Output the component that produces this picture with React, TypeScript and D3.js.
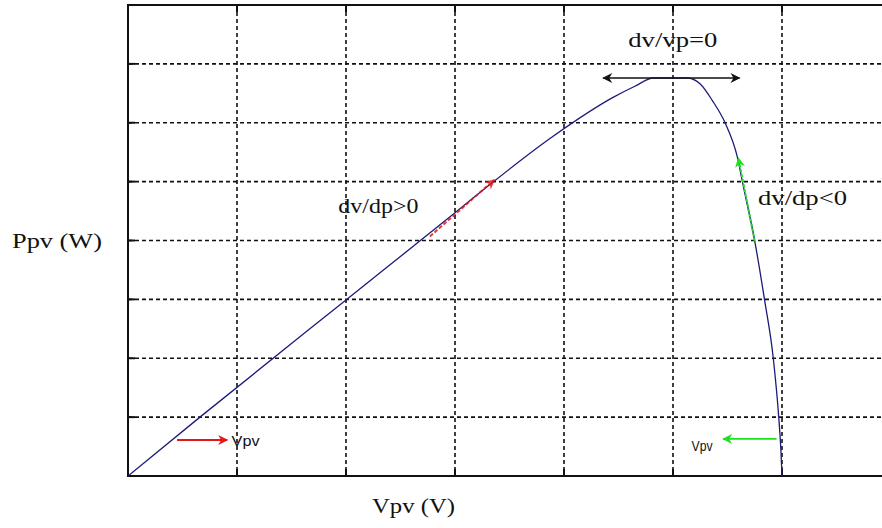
import React from "react";
import * as d3 from "d3";

// Grid ticks (no labels shown in the reference)
const xTicks = [0, 1, 2, 3, 4, 5, 6, 7];
const yTicks = [0, 1, 2, 3, 4, 5, 6, 7, 8];

// P-V curve (grid units)
const vpv = [0, 0.66, 2.0, 3.0, 3.32, 3.9, 4.45, 4.65, 4.82, 5.13, 5.25, 5.36, 5.48, 5.59, 5.64, 5.75, 5.84, 5.92, 5.97, 5.99, 6.0];
const ppv = [0, 1.0, 2.99, 4.47, 4.95, 5.77, 6.43, 6.62, 6.76, 6.76, 6.66, 6.38, 5.99, 5.42, 4.97, 3.99, 2.99, 2.0, 1.0, 0.44, 0];

// Annotation arrows [x1, y1, x2, y2] in grid units
const redSmall = [0.45, 0.61, 0.91, 0.61];
const greenSmall = [5.95, 0.63, 5.46, 0.63];
const peakArrow = [4.36, 6.76, 5.61, 6.76];
const redAlong = [2.77, 4.07, 3.36, 5.03];
const greenAlong = [5.75, 3.99, 5.6, 5.4];

// Annotation labels [text, x, y, width]
const labels: [string, number, number, number][] = [
  ["dv/dp>0", 1.93, 4.47, 80],
  ["dv/dp<0", 5.78, 4.6, 89],
  ["dv/vp=0", 4.59, 7.28, 89],
];
const smallLabels: [string, number, number, number][] = [
  ["Vpv", 0.95, 0.51, 28],
  ["Vpv", 5.17, 0.42, 21],
];

const W = 882;
const H = 528;
const L = 128, R = 891, T = 5, B = 476;

export default function App() {
  const x = d3.scaleLinear().domain([0, 7]).range([L, R]);
  const y = d3.scaleLinear().domain([0, 8]).range([B, T]);
  const pts: [number, number][] = vpv.map((v, i) => [v, ppv[i]]);
  const line = d3
    .line<[number, number]>()
    .x((d) => x(d[0]))
    .y((d) => y(d[1]))
    .curve(d3.curveMonotoneX);
  const serif = "'Liberation Serif', 'Times New Roman', serif";
  const sans = "'Liberation Sans', Arial, sans-serif";
  const seg = (a: number[], props: any, key: string) => (
    <line key={key} x1={x(a[0])} y1={y(a[1])} x2={x(a[2])} y2={y(a[3])} {...props} />
  );
  return (
    <svg width={W} height={H} style={{ position: "absolute", left: 0, top: 0, background: "#fff" }}>
      <defs>
        <marker id="redHead" viewBox="0 0 10 10" refX="9" refY="5" markerWidth="12" markerHeight="10" markerUnits="userSpaceOnUse" orient="auto">
          <path d="M0,0 L10,5 L0,10 L3,5 Z" fill="#e3161b" />
        </marker>
        <marker id="greenHead" viewBox="0 0 10 10" refX="9" refY="5" markerWidth="12" markerHeight="10" markerUnits="userSpaceOnUse" orient="auto">
          <path d="M0,0 L10,5 L0,10 L3,5 Z" fill="#1fe01f" />
        </marker>
        <marker id="blackHead" viewBox="0 0 10 10" refX="9" refY="5" markerWidth="11" markerHeight="10" markerUnits="userSpaceOnUse" orient="auto-start-reverse">
          <path d="M0,0 L10,5 L0,10 L3,5 Z" fill="#111" />
        </marker>
      </defs>
      <clipPath id="plotClip">
        <rect x={L} y={T} width={R - L} height={B - T} />
      </clipPath>
      {/* grid */}
      {xTicks.slice(1, -1).map((t) => (
        <g key={"gx" + t}>
          <line x1={x(t)} x2={x(t)} y1={T} y2={B} stroke="#111" strokeWidth={1.6} strokeDasharray="4,3" />
          <line x1={x(t)} x2={x(t)} y1={T} y2={T + 7} stroke="#111" strokeWidth={2} />
          <line x1={x(t)} x2={x(t)} y1={B} y2={B - 7} stroke="#111" strokeWidth={2} />
        </g>
      ))}
      {yTicks.slice(1, -1).map((t) => (
        <g key={"gy" + t}>
          <line x1={L} x2={R} y1={y(t)} y2={y(t)} stroke="#111" strokeWidth={1.6} strokeDasharray="4,3" />
          <line x1={L} x2={L + 7} y1={y(t)} y2={y(t)} stroke="#111" strokeWidth={2} />
        </g>
      ))}
      {/* frame */}
      <rect x={L} y={T} width={R - L} height={B - T} fill="none" stroke="#111" strokeWidth={2} />
      {/* curve */}
      <path d={line(pts) || ""} fill="none" stroke="#1c1c78" strokeWidth={1.3} clipPath="url(#plotClip)" />
      {/* annotation arrows */}
      {seg(redAlong, { stroke: "#e3161b", strokeWidth: 2, strokeDasharray: "4,2", opacity: 0.85, markerEnd: "url(#redHead)" }, "ra")}
      {seg(greenAlong, { stroke: "#1fe01f", strokeWidth: 2, strokeDasharray: "3,2", markerEnd: "url(#greenHead)" }, "ga")}
      {seg(redSmall, { stroke: "#e3161b", strokeWidth: 2, markerEnd: "url(#redHead)" }, "rs")}
      {seg(greenSmall, { stroke: "#1fe01f", strokeWidth: 1.6, markerEnd: "url(#greenHead)" }, "gs")}
      {seg(peakArrow, { stroke: "#111", strokeWidth: 1.5, markerEnd: "url(#blackHead)", markerStart: "url(#blackHead)" }, "pa")}
      {/* labels */}
      {labels.map(([s, lx, ly, len]) => (
        <text key={s} x={x(lx)} y={y(ly)} fontFamily={serif} fontSize={22} fill="#111" textLength={len} lengthAdjust="spacingAndGlyphs">
          {s}
        </text>
      ))}
      {smallLabels.map(([s, lx, ly, len], i) => (
        <text key={"s" + i} x={x(lx)} y={y(ly)} fontFamily={sans} fontSize={15} fill="#111" textLength={len} lengthAdjust="spacingAndGlyphs">
          {s}
        </text>
      ))}
      {/* axis titles */}
      <text x={12} y={248} fontFamily={serif} fontSize={22} fill="#111" textLength={90} lengthAdjust="spacingAndGlyphs">
        Ppv (W)
      </text>
      <text x={372} y={513} fontFamily={serif} fontSize={22} fill="#111" textLength={83} lengthAdjust="spacingAndGlyphs">
        Vpv (V)
      </text>
    </svg>
  );
}
